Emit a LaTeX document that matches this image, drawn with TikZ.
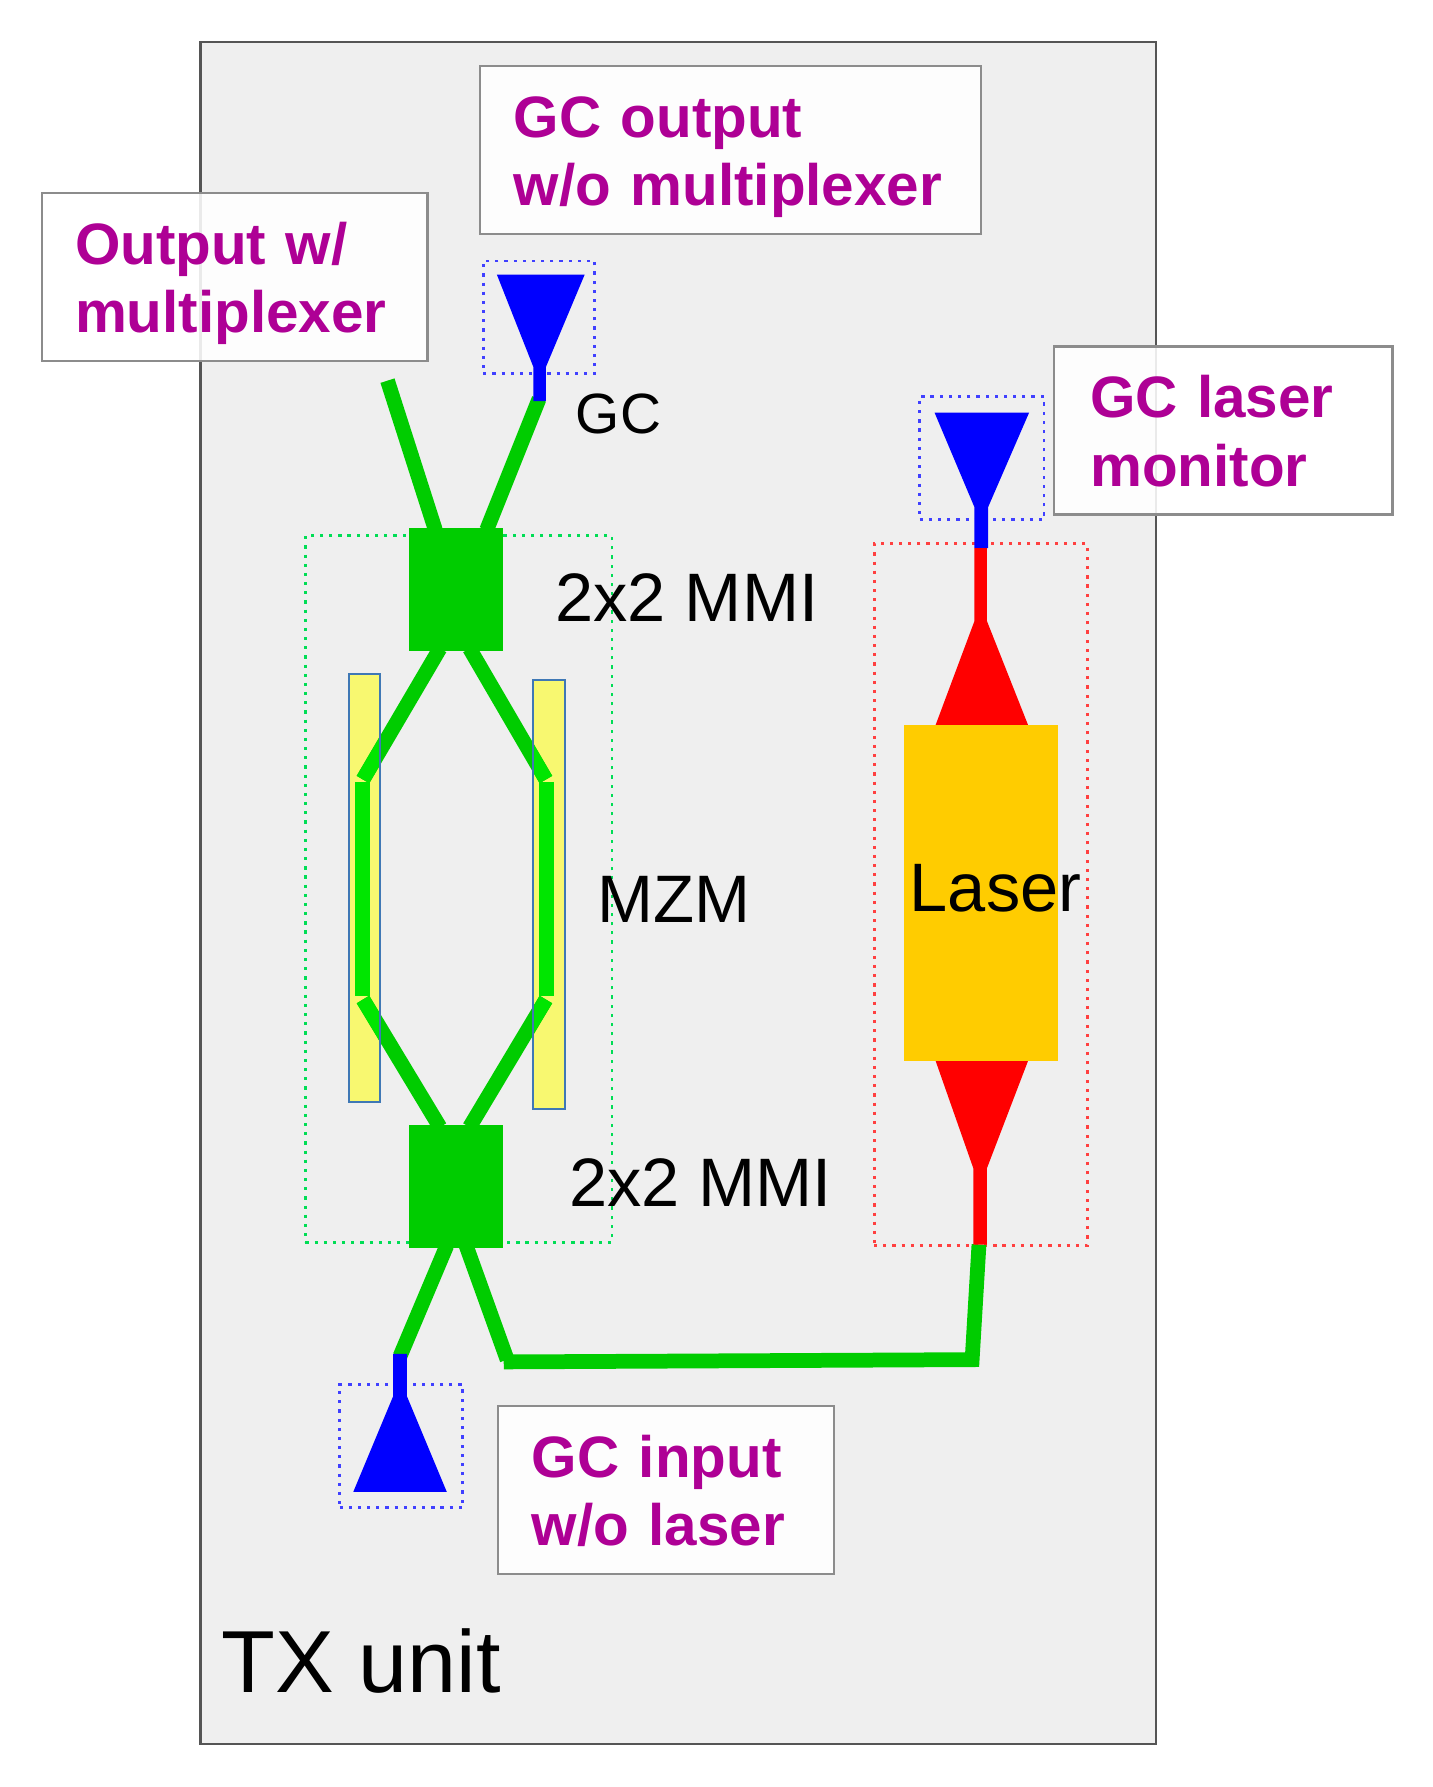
\documentclass[tikz,border=0pt]{standalone}
\usepackage{fontspec}
\setmainfont{Liberation Sans}
\definecolor{panelbg}{HTML}{EFEFEF}
\definecolor{panelln}{HTML}{555555}
\definecolor{boxln}{HTML}{8C8C8C}
\definecolor{mag}{HTML}{AE0095}
\definecolor{wg}{HTML}{00CC00}
\definecolor{wgb}{HTML}{00E600}
\definecolor{elec}{HTML}{F8F870}
\definecolor{elecln}{HTML}{3F78B5}
\definecolor{las}{HTML}{FFCC00}
\definecolor{zgreen}{HTML}{00DD55}
\definecolor{zred}{HTML}{FF4040}
\definecolor{zblue}{HTML}{4040FF}
\newcommand\boxrow[2]{\hspace*{#1}\raisebox{-2.3pt}[24pt][7pt]{#2}}
\begin{document}
\begin{tikzpicture}[x=0.5718pt,y=-0.5718pt,
  callout/.style={draw=boxln,line width=1.2pt,fill=white,fill opacity=0.88,text opacity=1,text=mag,
    font=\fontsize{29.3}{34.3}\selectfont\bfseries,align=left,inner sep=0pt,outer sep=0pt,anchor=north west,minimum height=84.3pt},
  lab/.style={inner sep=0pt,anchor=base west,text=black},
  zone/.style={line width=1.4pt,dash pattern=on 1.6pt off 3pt,inner sep=0pt,outer sep=0pt,anchor=north west},
  guide/.style={wg,line width=7.4pt,line join=miter},
  guideb/.style={wgb,line width=7.2pt},
  mmi/.style={fill=wg,draw=none,inner sep=0pt,outer sep=0pt,minimum width=46.9pt,minimum height=61.8pt,anchor=north west},
  elecd/.style={fill=elec,draw=none,inner sep=0pt,outer sep=0pt,minimum width=15.8pt,minimum height=215pt,anchor=north west},
  edge/.style={draw=elecln,line width=1pt},
  gcblue/.style={fill=blue,draw=none},
  redp/.style={fill=red,draw=none}]
\useasboundingbox (0,0) rectangle (1257,1568);
\fill[white] (0,0) rectangle (1257,1568);
\node[fill=panelbg,draw=panelln,line width=1.1pt,inner sep=0pt,outer sep=0pt,minimum width=479.2pt,minimum height=853.7pt,anchor=north west] (panel) at (176,37) {};

% dotted zones
\node[zone,draw=zgreen,minimum width=153.8pt,minimum height=354.5pt] (mzmzone) at (268,470) {};
\node[zone,draw=zred,minimum width=106.9pt,minimum height=352.2pt] (laszone) at (767,477) {};
\node[zone,draw=zblue,minimum width=56pt,minimum height=56.6pt] (gzone1) at (424,229) {};
\node[zone,draw=zblue,minimum width=62.3pt,minimum height=61.8pt] (gzone2) at (807,348) {};
\node[zone,draw=zblue,minimum width=61.8pt,minimum height=61.8pt] (gzone3) at (298,1215) {};

% electrodes
\node[elecd] (el1) at (306,591) {};
\node[elecd] (el2) at (468,597) {};

% coordinates
\coordinate (outA) at (340,334);
\coordinate (gcA) at (473,350);
\coordinate (m1a) at (382,465);
\coordinate (m1b) at (427,465);
\coordinate (m1c) at (386,569);
\coordinate (m1d) at (412,569);
\coordinate (la) at (318.5,684);
\coordinate (ra) at (479,684);
\coordinate (la2) at (318,686);
\coordinate (ra2) at (479.5,686);
\coordinate (lb2) at (318,874);
\coordinate (rb2) at (479.5,874);
\coordinate (lb) at (318.5,877);
\coordinate (rb) at (479,877);
\coordinate (m2a) at (386,989);
\coordinate (m2b) at (412,989);
\coordinate (m2c) at (392,1093);
\coordinate (m2d) at (409,1093);
\coordinate (gcB) at (351,1190);
\coordinate (c0) at (445,1193);
\coordinate (c1) at (442,1195);
\coordinate (c2) at (853,1193);
\coordinate (lasEnd) at (859,1092);

% waveguides
\draw[guide] (outA) -- (m1a);
\draw[guide] (gcA) -- (m1b);
\draw[guide] (m1c) -- (la);
\draw[guide] (m1d) -- (ra);
\draw[guide] (lb) -- (m2a);
\draw[guide] (rb) -- (m2b);
\draw[guide] (m2c) -- (gcB);
\draw[guide] (m2d) -- (c0);
\draw[guide] (c1) -- (c2) -- (lasEnd);

% waveguide seen through the electrodes
\begin{scope}
\clip (el1.north west) rectangle (el1.south east);
\draw[guideb] (m1c) -- (la);
\draw[guideb] (lb) -- (m2a);
\end{scope}
\begin{scope}
\clip (el2.north west) rectangle (el2.south east);
\draw[guideb] (m1d) -- (ra);
\draw[guideb] (rb) -- (m2b);
\end{scope}
\draw[guideb] (la2) -- (lb2);
\draw[guideb] (ra2) -- (rb2);
\draw[edge] (el1.north west) rectangle (el1.south east);
\draw[edge] (el2.north west) rectangle (el2.south east);

\node[mmi] (mmi1) at (359,463) {};
\node[mmi] (mmi2) at (359,987) {};

% grating couplers
\fill[gcblue] (436,241) -- (513,241) -- (479,322) -- (479,352) -- (468,352) -- (468,322) -- cycle;
\fill[gcblue] (820,362) -- (903,362) -- (867,445) -- (867,481) -- (855,481) -- (855,445) -- cycle;
\fill[gcblue] (310,1309) -- (392,1309) -- (357,1225) -- (357,1188) -- (345,1188) -- (345,1225) -- cycle;

% laser tapers
\fill[redp] (855,481) -- (866,481) -- (866,545) -- (902,636) -- (821,636) -- (855,545) -- cycle;
\fill[redp] (821,931) -- (902,931) -- (866,1025) -- (866,1092) -- (854,1092) -- (854,1025) -- cycle;
\node[fill=las,inner sep=0pt,outer sep=0pt,minimum width=77.2pt,minimum height=168.7pt,anchor=north west] (laser) at (793,636) {};

% text labels
\node[lab,font=\fontsize{34.4}{40}\selectfont] (tlaser) at (798,800) {Laser};
\node[lab,font=\fontsize{34.4}{40}\selectfont] (tmmi1) at (487,545) {2x2 MMI};
\node[lab,font=\fontsize{34.4}{40}\selectfont] (tmmi2) at (499,1059) {2x2 MMI};
\node[lab,font=\fontsize{33.7}{40}\selectfont] (tmzm) at (524,809) {MZM};
\node[lab,font=\fontsize{28.5}{34}\selectfont] (tgc) at (505,380) {GC};
\node[lab,font=\fontsize{44.2}{50}\selectfont] (ttx) at (194,1485) {TX unit};

% callouts
\node[callout,minimum width=251.6pt,text width=251.6pt] (b1) at (421,58) {\boxrow{17pt}{GC output}\\\boxrow{17pt}{w/o multiplexer}};
\node[callout,minimum width=193.3pt,text width=193.3pt] (b2) at (37,169.5) {\boxrow{16.5pt}{Output w/}\\\boxrow{16.5pt}{multiplexer}};
\node[callout,minimum width=169.8pt,text width=169.8pt] (b3) at (925,304) {\boxrow{18pt}{GC laser}\\\boxrow{18pt}{monitor}};
\node[callout,minimum width=168.7pt,text width=168.7pt] (b4) at (437,1233.5) {\boxrow{17pt}{GC input}\\\boxrow{17pt}{w/o laser}};
\end{tikzpicture}
\end{document}
